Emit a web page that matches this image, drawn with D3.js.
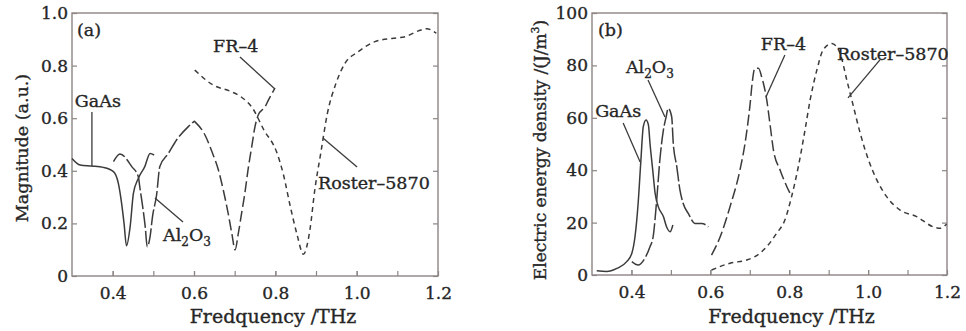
<!DOCTYPE html>
<html>
<head>
<meta charset="utf-8">
<script src="https://d3js.org/d3.v7.min.js"></script>
<style>
  body { margin: 0; background: #fff; }
  svg text { font-family: "DejaVu Serif", serif; fill: #262626; stroke: #262626; stroke-width: 0.35px; }
  .frame { fill: none; stroke: #8c8583; stroke-width: 1.4; }
  .ticks line { stroke: #8c8583; stroke-width: 1.2; }
  .ticks .domain { stroke: none; }
  .curve { fill: none; stroke: #3b3b3b; stroke-width: 1.5; }
  .leader { stroke: #3b3b3b; stroke-width: 1.3; }
</style>
</head>
<body>
<svg id="chart" width="966" height="331"></svg>
<script>
// ---- data ----
const freqTicks = [0.4, 0.6, 0.8, 1.0, 1.2];
const freqMinor = [0.4, 0.5, 0.6, 0.7, 0.8, 0.9, 1.0, 1.1];
const magTicks = [0, 0.2, 0.4, 0.6, 0.8, 1.0];
const energyTicks = [0, 20, 40, 60, 80, 100];

// (a) magnitude, [THz, a.u.]
const gaasMag = [[0.300,0.447],[0.320,0.422],[0.348,0.418],[0.377,0.413],[0.402,0.397],[0.414,0.352],[0.422,0.276],[0.428,0.200],[0.434,0.115],[0.443,0.188],[0.451,0.314],[0.463,0.371],[0.479,0.416],[0.492,0.466],[0.502,0.460]];
const al2o3Mag = [[0.402,0.435],[0.418,0.464],[0.447,0.416],[0.463,0.378],[0.467,0.335],[0.475,0.250],[0.480,0.188],[0.485,0.111],[0.492,0.150],[0.498,0.226],[0.508,0.308],[0.516,0.416],[0.537,0.466],[0.557,0.517],[0.586,0.568],[0.602,0.590]];
const fr4Mag = [[0.602,0.587],[0.627,0.536],[0.644,0.473],[0.660,0.403],[0.672,0.327],[0.684,0.238],[0.693,0.162],[0.701,0.099],[0.709,0.162],[0.717,0.238],[0.725,0.314],[0.734,0.416],[0.742,0.492],[0.750,0.568],[0.758,0.612],[0.775,0.644],[0.783,0.669],[0.799,0.714]];
const rosterMag = [[0.602,0.783],[0.647,0.726],[0.688,0.703],[0.715,0.682],[0.744,0.638],[0.772,0.555],[0.803,0.472],[0.820,0.385],[0.836,0.270],[0.853,0.160],[0.869,0.083],[0.885,0.175],[0.897,0.327],[0.912,0.470],[0.928,0.618],[0.949,0.732],[0.971,0.808],[1.004,0.853],[1.045,0.891],[1.090,0.904],[1.119,0.910],[1.152,0.932],[1.172,0.940],[1.196,0.923]];

// (b) electric energy density, [THz, J/m3]
const gaasEnergy = [[0.312,1.6],[0.337,1.3],[0.363,2.5],[0.388,5.1],[0.401,8.3],[0.409,14.6],[0.417,27.4],[0.424,43.9],[0.430,56.6],[0.437,59.2],[0.443,57.3],[0.447,50.3],[0.454,40.0],[0.460,31.2],[0.468,26.1],[0.481,22.3],[0.489,18.4],[0.498,16.5],[0.505,19.1]];
const al2o3Energy = [[0.401,5.1],[0.417,3.8],[0.434,6.4],[0.447,10.8],[0.455,14.6],[0.464,28.6],[0.472,43.9],[0.481,55.3],[0.488,60.4],[0.493,63.6],[0.502,60.4],[0.506,50.3],[0.515,41.3],[0.523,32.4],[0.531,27.4],[0.544,23.5],[0.561,19.7],[0.578,19.7],[0.595,18.4]];
const fr4Energy = [[0.603,7.6],[0.625,14.6],[0.650,26.1],[0.675,40.0],[0.688,50.3],[0.701,65.5],[0.706,73.2],[0.713,78.9],[0.722,78.9],[0.730,75.7],[0.743,66.8],[0.751,57.9],[0.760,47.7],[0.777,40.0],[0.794,33.7],[0.802,31.2]];
const rosterEnergy = [[0.603,1.9],[0.650,4.5],[0.692,5.7],[0.713,7.0],[0.743,10.8],[0.768,15.9],[0.789,21.0],[0.806,29.9],[0.823,41.3],[0.840,55.3],[0.853,66.8],[0.870,78.2],[0.886,85.9],[0.908,88.4],[0.929,84.6],[0.946,74.4],[0.963,64.2],[0.980,54.1],[1.001,43.9],[1.022,36.3],[1.047,29.9],[1.081,24.8],[1.123,22.3],[1.165,18.4],[1.182,17.8],[1.199,19.5]];

const dashes = { gaas: null, al2o3: "16,3", fr4: "11,4", roster: "5,4" };

const svg = d3.select("#chart");

function panel(opt) {
  const x = d3.scaleLinear().domain([0.3, 1.2]).range([opt.left, opt.right]);
  const y = d3.scaleLinear().domain(opt.ydomain).range([opt.bottom, opt.top]);
  const g = svg.append("g");

  // ticks (inward)
  g.append("g").attr("class", "ticks")
    .attr("transform", `translate(0,${opt.bottom})`)
    .call(d3.axisBottom(x).tickValues(freqMinor).tickSize(-5).tickFormat(""));
  g.append("g").attr("class", "ticks")
    .attr("transform", `translate(0,${opt.bottom})`)
    .call(d3.axisBottom(x).tickValues(freqTicks).tickSize(-5).tickPadding(11)
      .tickFormat(d3.format(".1f")))
    .selectAll("text").style("font-size", "17px").attr("fill", "#262626");
  g.append("g").attr("class", "ticks")
    .attr("transform", `translate(${opt.left},0)`)
    .call(d3.axisLeft(y).tickValues(opt.yticks).tickSize(-5).tickPadding(4)
      .tickFormat(opt.yfmt))
    .selectAll("text").style("font-size", "17px").attr("fill", "#262626");
  g.append("g").attr("class", "ticks")
    .attr("transform", `translate(${opt.right},0)`)
    .call(d3.axisRight(y).tickValues(opt.yticks).tickSize(-5).tickFormat(""));

  g.append("rect").attr("class", "frame")
    .attr("x", opt.left).attr("y", opt.top)
    .attr("width", opt.right - opt.left).attr("height", opt.bottom - opt.top);

  const line = d3.line().x(d => x(d[0])).y(d => y(d[1])).curve(d3.curveMonotoneX);
  opt.series.forEach(s => {
    g.append("path").attr("class", "curve").attr("d", line(s.data))
      .attr("stroke-dasharray", s.dash);
  });

  // axis titles
  g.append("text").attr("x", (opt.left + opt.right) / 2 + opt.xtitleShift).attr("y", 323)
    .attr("text-anchor", "middle").style("font-size", "19px")
    .text("Fredquency /THz");
  const yt = g.append("text")
    .attr("transform", `translate(${opt.ytitleX},${opt.ytitleY}) rotate(-90)`)
    .attr("text-anchor", "middle").style("font-size", opt.ytitleSize);
  opt.ytitle(yt);

  // annotations
  opt.notes.forEach(n => {
    const t = g.append("text").attr("x", x(n.tx)).attr("y", y(n.ty)).style("font-size", "17.5px");
    if (n.sub) {
      t.append("tspan").text("Al");
      t.append("tspan").attr("dy", 5).style("font-size", "12px").text("2");
      t.append("tspan").attr("dy", -5).text("O");
      t.append("tspan").attr("dy", 5).style("font-size", "12px").text("3");
    } else {
      t.text(n.label);
    }
    if (n.l) {
      g.append("line").attr("class", "leader")
        .attr("x1", x(n.l[0])).attr("y1", y(n.l[1]))
        .attr("x2", x(n.l[2])).attr("y2", y(n.l[3]));
    }
  });
}

panel({
  left: 72, right: 438, top: 13, bottom: 276,
  ydomain: [0, 1], yticks: magTicks,
  yfmt: d => d === 0 ? "0" : d3.format(".1f")(d),
  xtitleShift: 18, ytitleX: 28, ytitleY: 148, ytitleSize: "17.5px",
  ytitle: t => t.text("Magnitude (a.u.)"),
  series: [
    { data: gaasMag, dash: dashes.gaas },
    { data: al2o3Mag, dash: dashes.al2o3 },
    { data: fr4Mag, dash: dashes.fr4 },
    { data: rosterMag, dash: dashes.roster }
  ],
  notes: [
    { label: "(a)", tx: 0.312, ty: 0.913 },
    { label: "GaAs", tx: 0.307, ty: 0.643, l: [0.349, 0.624, 0.349, 0.418] },
    { sub: true, tx: 0.524, ty: 0.133, l: [0.504, 0.297, 0.573, 0.205] },
    { label: "FR\u20134", tx: 0.647, ty: 0.852, l: [0.713, 0.833, 0.799, 0.711] },
    { label: "Roster\u20135870", tx: 0.905, ty: 0.331, l: [0.917, 0.525, 1.001, 0.414] }
  ]
});

panel({
  left: 592, right: 947, top: 13, bottom: 275,
  ydomain: [0, 100], yticks: energyTicks,
  yfmt: d3.format("d"),
  xtitleShift: 22, ytitleX: 546, ytitleY: 150, ytitleSize: "17px",
  ytitle: t => {
    t.append("tspan").text("Electric energy density /(J/m");
    t.append("tspan").attr("dy", -7).style("font-size", "11px").text("3");
    t.append("tspan").attr("dy", 7).text(")");
  },
  series: [
    { data: gaasEnergy, dash: dashes.gaas },
    { data: al2o3Energy, dash: dashes.al2o3 },
    { data: fr4Energy, dash: dashes.fr4 },
    { data: rosterEnergy, dash: dashes.roster }
  ],
  notes: [
    { label: "(b)", tx: 0.315, ty: 91.2 },
    { label: "GaAs", tx: 0.308, ty: 60.3, l: [0.379, 58.0, 0.422, 43.1] },
    { sub: true, tx: 0.386, ty: 77.1, l: [0.442, 74.4, 0.485, 60.3] },
    { label: "FR\u20134", tx: 0.728, ty: 85.9, l: [0.789, 84.0, 0.741, 67.9] },
    { label: "Roster\u20135870", tx: 0.921, ty: 82.1, l: [1.030, 82.1, 0.949, 67.6] }
  ]
});
</script>
</body>
</html>
